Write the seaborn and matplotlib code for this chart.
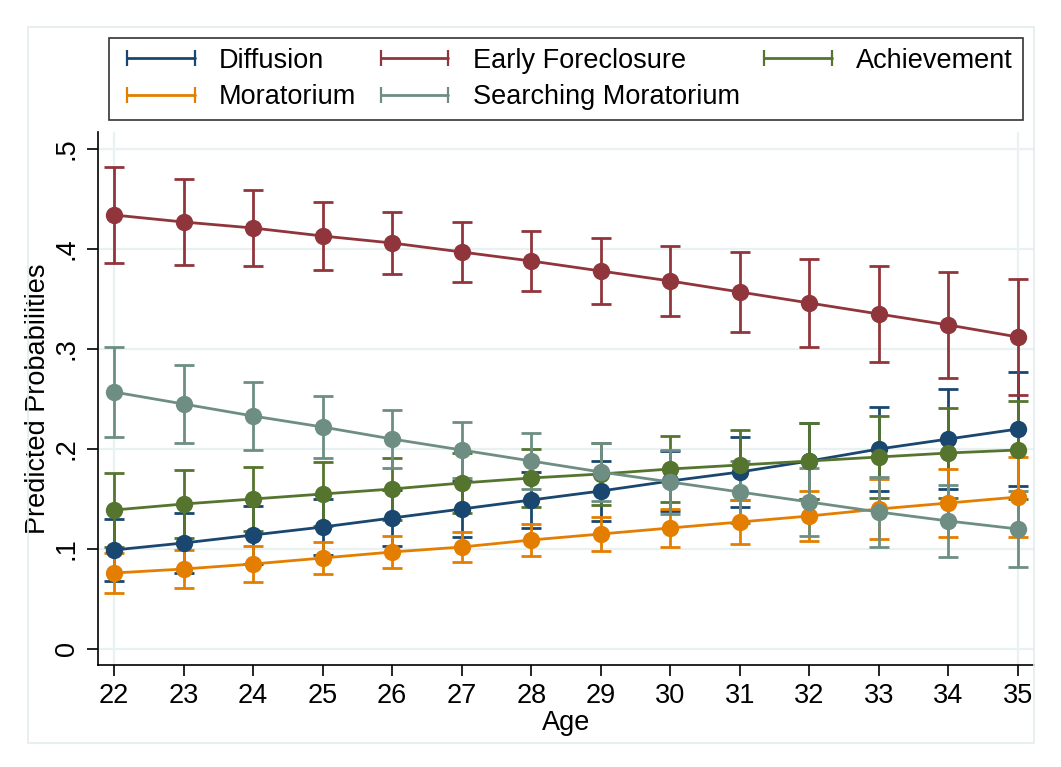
import numpy as np
import pandas as pd
import matplotlib
matplotlib.use("Agg")
import matplotlib.pyplot as plt
from matplotlib.lines import Line2D
from matplotlib.patches import Rectangle
import seaborn as sns

# Predicted probabilities by age with 95% confidence limits
ages = list(range(22, 36))

diffusion = [0.099, 0.106, 0.114, 0.122, 0.131, 0.140, 0.149, 0.158, 0.168, 0.177, 0.188, 0.200, 0.210, 0.220]
diffusion_hw = [0.031, 0.030, 0.029, 0.028, 0.028, 0.028, 0.028, 0.030, 0.030, 0.035, 0.038, 0.042, 0.050, 0.057]

early_foreclosure = [0.434, 0.427, 0.421, 0.413, 0.406, 0.397, 0.388, 0.378, 0.368, 0.357, 0.346, 0.335, 0.324, 0.312]
early_foreclosure_hw = [0.048, 0.043, 0.038, 0.034, 0.031, 0.030, 0.030, 0.033, 0.035, 0.040, 0.044, 0.048, 0.053, 0.058]

achievement = [0.139, 0.145, 0.150, 0.155, 0.160, 0.166, 0.171, 0.175, 0.180, 0.184, 0.188, 0.192, 0.196, 0.199]
achievement_hw = [0.037, 0.034, 0.032, 0.032, 0.031, 0.030, 0.029, 0.031, 0.033, 0.035, 0.038, 0.041, 0.045, 0.049]

moratorium = [0.076, 0.080, 0.085, 0.091, 0.097, 0.102, 0.109, 0.115, 0.121, 0.127, 0.133, 0.140, 0.146, 0.152]
moratorium_hw = [0.020, 0.019, 0.018, 0.016, 0.016, 0.015, 0.016, 0.017, 0.019, 0.022, 0.025, 0.030, 0.034, 0.040]

searching_moratorium = [0.257, 0.245, 0.233, 0.222, 0.210, 0.199, 0.188, 0.177, 0.167, 0.157, 0.147, 0.137, 0.128, 0.120]
searching_moratorium_hw = [0.045, 0.039, 0.034, 0.031, 0.029, 0.028, 0.028, 0.029, 0.032, 0.031, 0.034, 0.035, 0.036, 0.038]

statuses = ["Diffusion", "Early Foreclosure", "Achievement", "Moratorium", "Searching Moratorium"]
colors = ["#1a476f", "#90353b", "#55752f", "#e37e00", "#6e8e84"]

estimates = [diffusion, early_foreclosure, achievement, moratorium, searching_moratorium]
halfwidths = [diffusion_hw, early_foreclosure_hw, achievement_hw, moratorium_hw, searching_moratorium_hw]

y_ticks = [0, 0.1, 0.2, 0.3, 0.4, 0.5]
y_ticklabels = ["0", ".1", ".2", ".3", ".4", ".5"]

rows = []
for name, est, hw in zip(statuses, estimates, halfwidths):
    for a, e, h in zip(ages, est, hw):
        rows.append({"Age": a, "Status": name, "Prob": e, "Lo": e - h, "Hi": e + h})
df = pd.DataFrame(rows)

sns.set_style("white")
plt.rcParams["font.family"] = ["Liberation Sans", "DejaVu Sans"]
plt.rcParams["text.color"] = "black"
plt.rcParams["axes.labelcolor"] = "black"
plt.rcParams["xtick.color"] = "black"
plt.rcParams["ytick.color"] = "black"

FS = 19.5

fig = plt.figure(figsize=(10.61, 7.67), dpi=100)
fig.patch.set_facecolor("white")

# faint graph-region frame
fig.patches.append(Rectangle((28 / 1061, 1 - 743 / 767), (1034 - 28) / 1061, (743 - 27) / 767,
                             transform=fig.transFigure, fill=False, edgecolor="#e3ecee",
                             linewidth=1.2, zorder=0))

ax = fig.add_axes([98 / 1061, 1 - 665 / 767, (1034 - 98) / 1061, (665 - 132) / 767])
ax.set_facecolor("white")

# light grid
for yv in y_ticks:
    ax.axhline(yv, color="#eaf1f3", linewidth=1.6, zorder=0)
for xv in (ages[0], ages[-1]):
    ax.axvline(xv, color="#eaf1f3", linewidth=1.6, zorder=0)

palette = dict(zip(statuses, colors))

# confidence intervals
for name in statuses:
    sub = df[df["Status"] == name]
    ax.errorbar(sub["Age"], sub["Prob"],
                yerr=[sub["Prob"] - sub["Lo"], sub["Hi"] - sub["Prob"]],
                fmt="none", ecolor=palette[name], elinewidth=2.0,
                capsize=7, capthick=2.0, zorder=2)

# point estimates
sns.lineplot(data=df, x="Age", y="Prob", hue="Status", hue_order=statuses,
             palette=palette, marker="o", markersize=12.5, markeredgewidth=0,
             linewidth=2.0, ax=ax, legend=False, zorder=3)

ax.set_xlim(21.77, 35.23)
ax.set_ylim(-0.016, 0.517)
ax.set_xticks(ages)
ax.set_xticklabels([str(a) for a in ages], fontsize=FS)
ax.set_yticks(y_ticks)
ax.set_yticklabels(y_ticklabels, fontsize=FS, rotation=90, va="center")
ax.tick_params(axis="both", which="both", direction="out", length=8, width=1.2,
               color="black", labelcolor="black", bottom=True, left=True, pad=5)

for s in ("top", "right"):
    ax.spines[s].set_visible(False)
for s in ("left", "bottom"):
    ax.spines[s].set_color("black")
    ax.spines[s].set_linewidth(1.2)

ax.set_xlabel("Age", fontsize=FS, labelpad=1, color="black")
ax.set_ylabel("Predicted Probabilities", fontsize=FS, labelpad=2, color="black")

# legend: horizontal bar with capped ends, three columns filled row-wise
handles = {n: Line2D([], [], color=c, linewidth=2.0, marker="|", markersize=11,
                     markeredgewidth=1.6) for n, c in zip(statuses, colors)}
order = ["Diffusion", "Moratorium", "Early Foreclosure", "Searching Moratorium", "Achievement"]
leg = fig.legend([handles[n] for n in order], order, ncol=3, numpoints=2,
                 loc="center", bbox_to_anchor=(107 / 1061, 1 - 122 / 767, (1025 - 107) / 1061, 86 / 767),
                 fontsize=FS, frameon=True, fancybox=False,
                 edgecolor="black", handlelength=3.1, handletextpad=0.6,
                 columnspacing=0.6, labelspacing=0.4, borderpad=0.35, borderaxespad=0)
leg.get_frame().set_linewidth(1.2)
for t in leg.get_texts():
    t.set_color("black")

fig.savefig("out.png", dpi=100, facecolor="white")
